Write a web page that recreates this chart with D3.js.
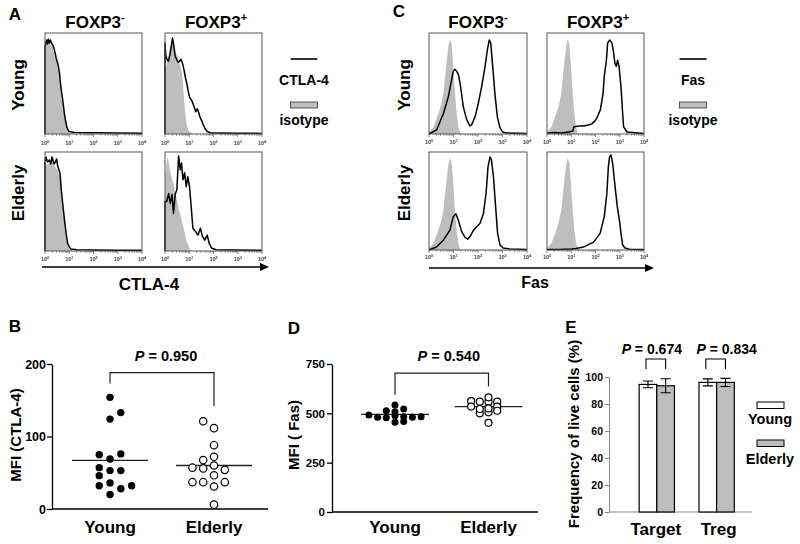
<!DOCTYPE html>
<html><head><meta charset="utf-8">
<script src="https://cdn.jsdelivr.net/npm/d3@7"></script>
<style>
body{margin:0;background:#fff}
text{font-family:"Liberation Sans",Arial,sans-serif;font-weight:bold;fill:#000}
</style></head>
<body><svg id="c" width="800" height="544"></svg>
<script>
// ================= DATA =================
const decadeTicks = [0, 1, 2, 3, 4];
const groups = ["Young", "Elderly"];
const rowLabels = ["Young", "Elderly"];

// Panel A (CTLA-4) flow histograms: [log10 decade, relative height]
const ctlaYoungNegLine = [[0,0],[0,0.86],[0.03,0.9],[0.07,0.93],[0.1,0.89],[0.14,0.94],[0.18,0.9],[0.22,0.93],[0.27,0.9],[0.32,0.88],[0.37,0.85],[0.42,0.8],[0.47,0.74],[0.52,0.7],[0.56,0.66],[0.6,0.6],[0.64,0.5],[0.68,0.42],[0.72,0.36],[0.76,0.28],[0.8,0.2],[0.85,0.13],[0.9,0.07],[0.95,0.04],[1.0,0.025],[1.2,0.015],[2,0.012],[3,0.01],[4,0.008]];
const ctlaYoungNegIso = [[0,0.84],[0.05,0.88],[0.1,0.9],[0.15,0.91],[0.2,0.9],[0.25,0.88],[0.3,0.86],[0.35,0.83],[0.4,0.78],[0.45,0.72],[0.5,0.68],[0.55,0.63],[0.6,0.56],[0.65,0.46],[0.7,0.37],[0.75,0.28],[0.8,0.19],[0.85,0.12],[0.9,0.06],[0.95,0.03],[1.0,0.015],[1.1,0.005],[1.3,0]];
const ctlaYoungPosLine = [[0,0],[0,0.9],[0.03,0.78],[0.08,0.74],[0.14,0.72],[0.2,0.78],[0.25,0.85],[0.31,0.95],[0.36,0.88],[0.42,0.77],[0.48,0.74],[0.54,0.71],[0.6,0.72],[0.66,0.74],[0.72,0.7],[0.78,0.64],[0.84,0.56],[0.9,0.5],[0.96,0.42],[1.02,0.36],[1.08,0.34],[1.14,0.31],[1.2,0.27],[1.27,0.22],[1.33,0.25],[1.38,0.22],[1.44,0.17],[1.5,0.14],[1.58,0.09],[1.66,0.05],[1.74,0.025],[1.86,0.012],[2.2,0.01],[3,0.008],[4,0.006]];
const ctlaYoungPosIso = [[0,0.62],[0.05,0.66],[0.1,0.72],[0.15,0.78],[0.2,0.86],[0.25,0.9],[0.3,0.92],[0.35,0.9],[0.4,0.84],[0.45,0.8],[0.5,0.78],[0.55,0.74],[0.6,0.7],[0.65,0.66],[0.7,0.6],[0.74,0.5],[0.78,0.36],[0.82,0.24],[0.86,0.15],[0.9,0.09],[0.95,0.05],[1.0,0.025],[1.1,0.008],[1.2,0]];
const ctlaElderlyNegLine = [[0,0],[0,0.9],[0.04,0.95],[0.1,0.9],[0.18,0.92],[0.24,0.88],[0.29,0.95],[0.34,0.9],[0.38,0.88],[0.43,0.9],[0.48,0.93],[0.52,0.86],[0.56,0.83],[0.62,0.78],[0.67,0.62],[0.73,0.48],[0.8,0.32],[0.87,0.18],[0.93,0.08],[1.0,0.04],[1.07,0.02],[1.3,0.012],[2,0.01],[3,0.008],[4,0.008]];
const ctlaElderlyNegIso = [[0,0.86],[0.1,0.88],[0.2,0.9],[0.3,0.9],[0.4,0.86],[0.5,0.82],[0.56,0.78],[0.62,0.72],[0.67,0.58],[0.73,0.44],[0.8,0.28],[0.87,0.15],[0.93,0.06],[1.0,0.02],[1.1,0]];
const ctlaElderlyPosLine = [[0,0],[0,0.5],[0.07,0.5],[0.15,0.58],[0.22,0.48],[0.29,0.57],[0.35,0.38],[0.42,0.57],[0.49,0.62],[0.56,0.96],[0.63,0.82],[0.68,0.89],[0.74,0.72],[0.81,0.79],[0.875,0.65],[0.94,0.75],[1.01,0.65],[1.08,0.45],[1.15,0.23],[1.25,0.2],[1.36,0.16],[1.46,0.23],[1.54,0.15],[1.64,0.11],[1.74,0.16],[1.82,0.08],[1.92,0.03],[2.1,0.012],[3,0.01],[4,0.008]];
const ctlaElderlyPosIso = [[0,0.72],[0.05,0.86],[0.1,0.95],[0.15,0.9],[0.2,0.82],[0.28,0.74],[0.35,0.68],[0.45,0.56],[0.6,0.4],[0.75,0.25],[0.875,0.11],[1.0,0.03],[1.1,0]];

// Panel C (Fas) flow histograms
const fasIso = [[0,0.02],[0.18,0.07],[0.38,0.2],[0.5,0.3],[0.585,0.4],[0.65,0.55],[0.72,0.72],[0.79,0.87],[0.86,0.94],[0.925,0.88],[0.99,0.67],[1.06,0.4],[1.13,0.2],[1.2,0.07],[1.27,0.01],[1.35,0]];
const fasYoungNegLine = [[0,0],[0.31,0.04],[0.585,0.2],[0.79,0.37],[0.925,0.54],[0.99,0.62],[1.06,0.64],[1.13,0.62],[1.2,0.59],[1.27,0.5],[1.4,0.27],[1.54,0.14],[1.67,0.08],[1.74,0.09],[1.88,0.17],[2.01,0.3],[2.15,0.47],[2.29,0.67],[2.38,0.83],[2.46,0.93],[2.52,0.9],[2.6,0.67],[2.69,0.4],[2.79,0.17],[2.9,0.06],[3.0,0.02],[3.17,0.01],[4,0.005]];
const fasYoungPosLine = [[0,0.01],[0.3,0.015],[0.6,0.01],[0.9,0.02],[1.07,0.03],[1.1,0.07],[1.3,0.08],[1.5,0.08],[1.71,0.09],[1.85,0.1],[1.98,0.13],[2.06,0.16],[2.2,0.24],[2.31,0.4],[2.36,0.57],[2.45,0.73],[2.5,0.9],[2.58,0.93],[2.68,0.9],[2.75,0.8],[2.8,0.7],[2.86,0.67],[2.91,0.73],[2.97,0.67],[3.05,0.47],[3.11,0.24],[3.16,0.07],[3.3,0.02],[4,0.005]];
const fasElderlyNegLine = [[0,0],[0.3,0.03],[0.585,0.1],[0.85,0.2],[0.99,0.34],[1.1,0.37],[1.2,0.3],[1.33,0.19],[1.47,0.13],[1.58,0.11],[1.68,0.14],[1.81,0.2],[1.95,0.24],[2.08,0.27],[2.22,0.37],[2.33,0.58],[2.41,0.85],[2.49,0.95],[2.55,0.92],[2.63,0.75],[2.72,0.44],[2.8,0.17],[2.9,0.05],[3.03,0.02],[3.3,0.01],[4,0.005]];
const fasElderlyPosLine = [[0,0.005],[0.5,0.005],[1.0,0.01],[1.2,0.015],[1.5,0.03],[1.92,0.08],[2.19,0.17],[2.36,0.34],[2.47,0.58],[2.53,0.85],[2.58,0.95],[2.64,0.97],[2.71,0.88],[2.81,0.64],[2.9,0.44],[2.99,0.3],[3.05,0.17],[3.12,0.05],[3.22,0.02],[3.4,0.008],[4,0.005]];

// Panel B: MFI (CTLA-4)
const ctlaYoung = [154, 124, 69, 53, 36, 20, 133, 76, 75, 53, 57, 46, 28, 32, 32];
const ctlaElderly = [111.5, 88, 60, 46.5, 31, 6, 121, 67.5, 56, 72, 54, 37, 37, 37, 57];
const ctlaMedian = [67, 60];
const ctlaTicks = [0, 100, 200];
const ctlaP = "0.950";

// Panel D: MFI (Fas)
const fasYoung = [508, 488, 455, 522, 483, 458, 513, 478, 480, 480, 483, 491, 542];
const fasElderly = [559, 505, 452, 559, 500, 559, 522, 562, 525, 534, 534, 513, 581];
const fasMedian = [495, 534];
const fasTicks = [0, 250, 500, 750];
const fasP = "0.540";

// Panel E: frequency of live cells (%)
const cellTypes = ["Target", "Treg"];
const liveYoung = [94.5, 96];
const liveYoungErr = [2.5, 2.6];
const liveElderly = [93.5, 96];
const liveElderlyErr = [5.2, 3];
const liveTicks = [0, 20, 40, 60, 80, 100];
const liveP = ["0.674", "0.834"];

// ================= DRAW =================
const svg = d3.select("#c");
function label(x, y, s, size, anchor = "middle", rot = false) {
  const t = svg.append("text").attr("font-size", size).attr("text-anchor", anchor).text(s);
  if (rot) t.attr("transform", `translate(${x},${y}) rotate(-90)`);
  else t.attr("x", x).attr("y", y);
  return t;
}
function foxp(x, y, sign) {
  const t = svg.append("text").attr("x", x).attr("y", y).attr("font-size", 17).attr("text-anchor", "middle");
  t.append("tspan").text("FOXP3");
  t.append("tspan").attr("font-size", 11).attr("dy", -7).text(sign);
}
function ptext(x, y, val, size) {
  const t = svg.append("text").attr("x", x).attr("y", y).attr("font-size", size).attr("text-anchor", "middle");
  t.append("tspan").attr("font-style", "italic").text("P");
  t.append("tspan").text(" = " + val);
}

function hist(x0, x1, yTop, yBot, line, iso, labY) {
  const g = svg.append("g");
  const xs = d3.scaleLinear().domain([0, 4]).range([x0, x1]);
  const ys = d3.scaleLinear().domain([0, 1]).range([yBot, yTop]);
  g.append("path").datum(iso).attr("fill", "#bebebe")
    .attr("d", d3.area().x(d => xs(d[0])).y0(yBot).y1(d => ys(d[1])));
  g.append("path").datum(line).attr("fill", "none").attr("stroke", "#000").attr("stroke-width", 1.5)
    .attr("stroke-linejoin", "round")
    .attr("d", d3.line().x(d => xs(d[0])).y(d => ys(d[1])));
  g.append("rect").attr("x", x0).attr("y", yTop).attr("width", x1 - x0).attr("height", yBot - yTop)
    .attr("fill", "none").attr("stroke", "#555").attr("stroke-width", 1);
  const minor = [];
  for (let d = 0; d < 4; d++) for (let k = 2; k <= 9; k++) minor.push(d + Math.log10(k));
  g.selectAll(".mn").data(minor).enter().append("line")
    .attr("x1", d => xs(d)).attr("x2", d => xs(d)).attr("y1", yBot).attr("y2", yBot + 1.8)
    .attr("stroke", "#555").attr("stroke-width", 0.6);
  decadeTicks.forEach(d => {
    g.append("line").attr("x1", xs(d)).attr("x2", xs(d)).attr("y1", yBot).attr("y2", yBot + 3)
      .attr("stroke", "#555").attr("stroke-width", 0.7);
    const t = g.append("text").attr("x", xs(d)).attr("y", labY).attr("font-size", 5.5)
      .attr("font-weight", "normal").attr("text-anchor", "middle").style("fill", "#444");
    t.append("tspan").text("10");
    t.append("tspan").attr("font-size", 3.8).attr("dy", -2.2).text(d);
  });
}
function arrow(x0, x1, y) {
  svg.append("line").attr("x1", x0).attr("x2", x1 - 6).attr("y1", y).attr("y2", y)
    .attr("stroke", "#000").attr("stroke-width", 1.3);
  svg.append("path").attr("d", `M${x1},${y} L${x1 - 9},${y - 4} L${x1 - 9},${y + 4} Z`).attr("fill", "#000");
}
function legendHist(cx, name) {
  svg.append("line").attr("x1", cx - 13.5).attr("x2", cx + 13.5).attr("y1", 59).attr("y2", 59)
    .attr("stroke", "#000").attr("stroke-width", 1.6);
  label(cx, 85, name, 14);
  svg.append("rect").attr("x", cx - 13.5).attr("y", 102).attr("width", 27).attr("height", 6)
    .attr("fill", "#bebebe").attr("stroke", "#333").attr("stroke-width", 0.8);
  label(cx, 125, "isotype", 14);
}

// ---- Panel A ----
label(15, 20, "A", 17);
foxp(95, 28, "-"); foxp(216, 28, "+");
label(24, 85, rowLabels[0], 17, "middle", true);
label(24, 193, rowLabels[1], 17, "middle", true);
hist(45, 142, 33, 134, ctlaYoungNegLine, ctlaYoungNegIso, 145);
hist(165, 262, 33, 134, ctlaYoungPosLine, ctlaYoungPosIso, 145);
hist(45, 142, 152, 251, ctlaElderlyNegLine, ctlaElderlyNegIso, 261);
hist(165, 262, 152, 251, ctlaElderlyPosLine, ctlaElderlyPosIso, 261);
arrow(42, 269, 267);
label(149, 290, "CTLA-4", 17);
legendHist(304, "CTLA-4");

// ---- Panel C ----
label(399, 17, "C", 17);
foxp(478, 28, "-"); foxp(598, 28, "+");
label(410, 85, rowLabels[0], 17, "middle", true);
label(410, 193, rowLabels[1], 17, "middle", true);
hist(429, 527, 33, 134, fasYoungNegLine, fasIso, 144);
hist(547, 644, 33, 134, fasYoungPosLine, fasIso, 144);
hist(429, 527, 152, 250, fasElderlyNegLine, fasIso, 259);
hist(547, 644, 152, 250, fasElderlyPosLine, fasIso, 259);
arrow(429, 654, 268);
label(535, 288, "Fas", 16);
legendHist(693, "Fas");

// ---- beeswarm helper ----
function swarm(vals, y, cx, dx, T, pref) {
  const placed = [];
  return vals.map(v => {
    const py = y(v);
    for (const k of pref) {
      if (!placed.some(p => p.k === k && Math.abs(p.py - py) < T)) {
        placed.push({ k, py });
        return { v, x: cx + k * dx, y: py };
      }
    }
  });
}
const rightFirst = [0, 1, -1, 2, -2, 3, -3, 4, -4, 5, -5];
const leftFirst = [0, -1, 1, -2, 2, -3, 3, -4, 4, -5, 5];

function scatterPanel(opt) {
  const y = d3.scaleLinear().domain(opt.domain).range([opt.yBot, opt.yTop]);
  const x = d3.scalePoint().domain(groups).range([opt.xL, opt.xR]).padding(opt.pad).align(opt.align);
  const ax = svg.append("g").attr("transform", `translate(${opt.xL},0)`)
    .call(d3.axisLeft(y).tickValues(opt.ticks).tickSize(5).tickSizeOuter(0).tickPadding(opt.tp));
  ax.select(".domain").attr("stroke-width", 1.3);
  ax.selectAll(".tick line").attr("stroke-width", 1.3);
  ax.selectAll(".tick text").attr("font-size", opt.tfs).attr("font-family", "Liberation Sans, Arial, sans-serif").attr("font-weight", "bold");
  svg.append("line").attr("x1", opt.xL).attr("x2", opt.xR).attr("y1", y(0)).attr("y2", y(0))
    .attr("stroke", "#000").attr("stroke-width", 1.3);
  const sets = [opt.young, opt.elderly];
  sets.forEach((vals, i) => {
    const pts = swarm(vals, y, x(groups[i]), opt.dx, opt.T, i === 0 ? rightFirst : leftFirst);
    svg.append("line").attr("x1", x(groups[i]) - opt.mw).attr("x2", x(groups[i]) + opt.mw)
      .attr("y1", y(opt.median[i])).attr("y2", y(opt.median[i]))
      .attr("stroke", "#222").attr("stroke-width", 1.3);
    svg.selectAll(null).data(pts).enter().append("circle")
      .attr("cx", d => d.x).attr("cy", d => d.y).attr("r", opt.r)
      .attr("fill", i === 0 ? "#000" : "#fff").attr("stroke", "#000").attr("stroke-width", i === 0 ? 0 : 1.2);
  });
  const b = opt.bracket;
  svg.append("path").attr("fill", "none").attr("stroke", "#222").attr("stroke-width", 1.2)
    .attr("d", `M${x(groups[0])},${y(b[0])} V${y(b[1])} H${x(groups[1])} V${y(b[2])}`);
  ptext((x(groups[0]) + x(groups[1])) / 2 + opt.pdx, opt.pY, opt.p, 14.5);
  groups.forEach(gname => label(x(gname), 533, gname, 17));
  label(opt.ylx, 435, opt.ylab, 15, "middle", true);
}

// ---- Panel B ----
label(15, 332, "B", 17);
scatterPanel({
  domain: [0, 200], yBot: 509, yTop: 364, xL: 52, xR: 268, pad: 0.5385, align: 0.518,
  ticks: ctlaTicks, tp: 1, tfs: 12.5, young: ctlaYoung, elderly: ctlaElderly, median: ctlaMedian,
  dx: 10.8, T: 7.5, r: 3.7, mw: 38, bracket: [173, 188, 142], p: ctlaP, pY: 361, pdx: 4,
  ylab: "MFI (CTLA-4)", ylx: 21
});

// ---- Panel D ----
label(294, 334, "D", 17);
scatterPanel({
  domain: [0, 750], yBot: 512, yTop: 364, xL: 332, xR: 538, pad: 0.6016, align: 0.56,
  ticks: fasTicks, tp: 2, tfs: 11.5, young: fasYoung, elderly: fasElderly, median: fasMedian,
  dx: 8.7, T: 3.8, r: 3.5, mw: 34, bracket: [594, 704, 636], p: fasP, pY: 361, pdx: 7,
  ylab: "MFI ( Fas)", ylx: 299
});

// ---- Panel E ----
label(571, 333, "E", 17);
{
  const y = d3.scaleLinear().domain([0, 100]).range([512, 377]);
  const x0 = d3.scaleBand().domain(cellTypes).range([609, 752]).paddingInner(0.41).paddingOuter(0.4).align(0.63);
  const x1 = d3.scaleBand().domain(groups).range([0, x0.bandwidth()]);
  const ax = svg.append("g").attr("transform", "translate(609,0)")
    .call(d3.axisLeft(y).tickValues(liveTicks).tickSize(4).tickSizeOuter(0).tickPadding(2));
  ax.select(".domain").attr("stroke", "#888").attr("stroke-width", 1);
  ax.selectAll(".tick line").attr("stroke", "#888");
  ax.selectAll(".tick text").attr("font-size", 10.5).attr("font-family", "Liberation Sans, Arial, sans-serif").attr("font-weight", "bold");
  svg.append("line").attr("x1", 609).attr("x2", 752).attr("y1", y(0)).attr("y2", y(0))
    .attr("stroke", "#888").attr("stroke-width", 1);
  const series = [
    { g: "Young", vals: liveYoung, err: liveYoungErr, fill: "#fff" },
    { g: "Elderly", vals: liveElderly, err: liveElderlyErr, fill: "#bdbdbd" }
  ];
  series.forEach(s => {
    cellTypes.forEach((c, i) => {
      const bx = x0(c) + x1(s.g), bw = x1.bandwidth(), cx = bx + bw / 2;
      svg.append("rect").attr("x", bx).attr("y", y(s.vals[i])).attr("width", bw)
        .attr("height", y(0) - y(s.vals[i])).attr("fill", s.fill).attr("stroke", "#000").attr("stroke-width", 1.2);
      const hi = y(s.vals[i] + s.err[i]), lo = y(s.vals[i] - s.err[i]);
      svg.append("path").attr("fill", "none").attr("stroke", "#000").attr("stroke-width", 1.1)
        .attr("d", `M${cx},${hi} V${lo} M${cx - 5},${hi} H${cx + 5} M${cx - 5},${lo} H${cx + 5}`);
    });
  });
  const pShift = [-5, 10];
  cellTypes.forEach((c, i) => {
    const a = x0(c) + x1("Young") + x1.bandwidth() / 2 - 2;
    const b = x0(c) + x1("Elderly") + x1.bandwidth() / 2;
    svg.append("path").attr("fill", "none").attr("stroke", "#000").attr("stroke-width", 1.1)
      .attr("d", `M${a},369 V359 H${b} V369`);
    ptext(x0(c) + x0.bandwidth() / 2 + pShift[i], 354, liveP[i], 14);
    label(x0(c) + x0.bandwidth() / 2 + (i === 0 ? -1 : 2), 535, c, 17);
  });
  series.forEach((s, i) => {
    svg.append("rect").attr("x", 757).attr("y", 402 + i * 38).attr("width", 27).attr("height", 6.5)
      .attr("fill", s.fill).attr("stroke", "#000").attr("stroke-width", 1);
    label(770, 424 + i * 40, s.g, 14.5);
  });
  label(579, 434, "Frequency of live cells (%)", 15, "middle", true);
}
</script></body></html>
